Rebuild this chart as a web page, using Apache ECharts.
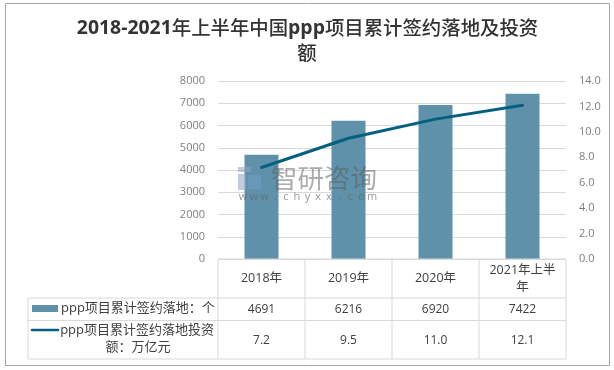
<!DOCTYPE html>
<html><head><meta charset="utf-8">
<style>html,body{margin:0;padding:0;background:#fff}#c{width:614px;height:370px}</style>
<script src="https://cdn.jsdelivr.net/npm/echarts@6/dist/echarts.min.js"></script>
</head><body><div id="c"></div>
<script>
const titleLine1 = ['2018-2021', '年上半年中国', 'ppp', '项目累计签约落地及投资'];
const titleLine2 = '额';
const categories = ['2018年', '2019年', '2020年', '2021年上半\n年'];
const barName = 'ppp项目累计签约落地：个';
const lineName = ['ppp项目累计签约落地投资', '额：万亿元'];
const barValues = [4691, 6216, 6920, 7422];
const lineValues = [7.2, 9.5, 11.0, 12.1];
const lineLabels = ['7.2', '9.5', '11.0', '12.1'];
const watermark = '智研咨询';
const watermarkUrl = 'www.chyxx.com';
const BAR = '#5f92aa', LINE = '#04607f', GRID = '#d9d9d9', TXT = '#404040', AX = '#7f7f7f';
const F = '"Open Sans","Noto Sans CJK SC",sans-serif';
const chart = echarts.init(document.getElementById('c'), null, {renderer: 'canvas'});
const L = 218, R = 566, T = 81, B = 259, LEFT = 28, Y1 = 298, Y2 = 320.5, Y3 = 359;
const colW = (R - L) / categories.length;
const g = [];
const hl = (x1, x2, y) => g.push({type: 'line', silent: true, shape: {x1, y1: y, x2, y2: y}, style: {stroke: GRID, lineWidth: 1}, z: 5});
const vl = (x, y1, y2) => g.push({type: 'line', silent: true, shape: {x1: x, y1, x2: x, y2}, style: {stroke: GRID, lineWidth: 1}, z: 5});
const txt = (x, y, text, o = {}) => g.push({type: 'text', silent: true, x, y, z: 6, style: Object.assign({text, fill: TXT, font: '12px ' + F, align: 'center', verticalAlign: 'middle', lineHeight: 17}, o)});
hl(L, R, B); hl(LEFT, R, Y1); hl(LEFT, R, Y2); hl(LEFT, R, Y3);
vl(LEFT, Y1, Y3);
for (let i = 0; i <= categories.length; i++) vl(L + i * colW, B, Y3);
categories.forEach((c, i) => {
  const cx = L + (i + .5) * colW;
  txt(cx, (B + Y1) / 2, c, {font: '12.5px ' + F});
  txt(cx, (Y1 + Y2) / 2 + .5, String(barValues[i]));
  txt(cx, (Y2 + Y3) / 2 + 0.5, lineLabels[i]);
});
// legend keys
g.push({type: 'rect', silent: true, shape: {x: 32, y: 305, width: 26, height: 7}, style: {fill: BAR}, z: 6});
g.push({type: 'line', silent: true, shape: {x1: 32, y1: 330, x2: 58, y2: 330}, style: {stroke: LINE, lineWidth: 2.5, lineCap: 'round'}, z: 6});
txt(61, 308.5, barName, {align: 'left', font: '13px ' + F});
txt(214, 330, lineName[0], {align: 'right', font: '13px ' + F});
txt(138, 347.5, lineName[1], {font: '13px ' + F});
// frame
g.push({type: 'rect', silent: true, shape: {x: 5.5, y: 3.5, width: 604, height: 362}, style: {fill: 'none', stroke: '#a6a6a6', lineWidth: 1}, z: 1});
// title: bold latin, regular CJK
const bold = s => /^[0-9a-z-]+$/.test(s);
g.push({type: 'text', silent: true, x: 307.5, y: 28, z: 6, style: {
  text: titleLine1.map((s, i) => `{${bold(s) ? 'b' : 'r'}|${s}}`).join(''),
  align: 'center', verticalAlign: 'middle',
  rich: {b: {font: 'bold 19.4px ' + F, fill: '#333333'}, r: {font: '500 19.4px "Noto Sans CJK SC"', fill: '#333333'}}
}});
txt(307, 53, titleLine2, {font: '500 19.4px "Noto Sans CJK SC"', fill: '#333333'});
// watermark
g.push({type: 'rect', silent: true, shape: {x: 238, y: 167, width: 13, height: 5}, style: {fill: '#8fa3c8', opacity: .55}, z: 8});
g.push({type: 'rect', silent: true, shape: {x: 238, y: 174, width: 8, height: 16}, style: {fill: '#8fa3c8', opacity: .55}, z: 8});
g.push({type: 'rect', silent: true, shape: {x: 248, y: 175, width: 13, height: 14}, style: {fill: '#6f9fc8', opacity: .55}, z: 8});
txt(324, 178, watermark, {font: '26.5px "Noto Sans CJK SC"', fill: 'rgba(90,90,90,0.5)'});
watermarkUrl.split('').forEach((ch, i) => txt(243 + i * 10.75, 197, ch, {font: '11px ' + F, fill: 'rgba(100,100,100,0.65)'}));

chart.setOption({
  animation: false,
  backgroundColor: '#fff',
  grid: {left: L, right: 614 - R, top: T, bottom: 370 - B, containLabel: false},
  xAxis: {type: 'category', data: categories, axisLine: {show: false}, axisTick: {show: false}, axisLabel: {show: false}},
  yAxis: [
    {type: 'value', min: 0, max: 8000, interval: 1000, axisLine: {show: false}, axisTick: {show: false},
     axisLabel: {color: AX, fontSize: 11, fontFamily: F, margin: 13, padding: [2, 0, 0, 0], formatter: v => String(v)}, splitLine: {lineStyle: {color: GRID, width: 1}}},
    {type: 'value', min: 0, max: 14, interval: 2, axisLine: {show: false}, axisTick: {show: false},
     axisLabel: {color: AX, fontSize: 11, fontFamily: F, margin: 13, padding: [2, 0, 0, 0], formatter: v => v.toFixed(1)}, splitLine: {show: false}}
  ],
  series: [
    {type: 'bar', name: barName, data: barValues, barWidth: 34, itemStyle: {color: BAR}, yAxisIndex: 0, z: 2},
    {type: 'line', name: lineName.join(''), data: lineValues, yAxisIndex: 1, symbol: 'none', smooth: false, lineStyle: {color: LINE, width: 3, cap: 'round'}, z: 3}
  ],
  graphic: g
});
</script></body></html>
